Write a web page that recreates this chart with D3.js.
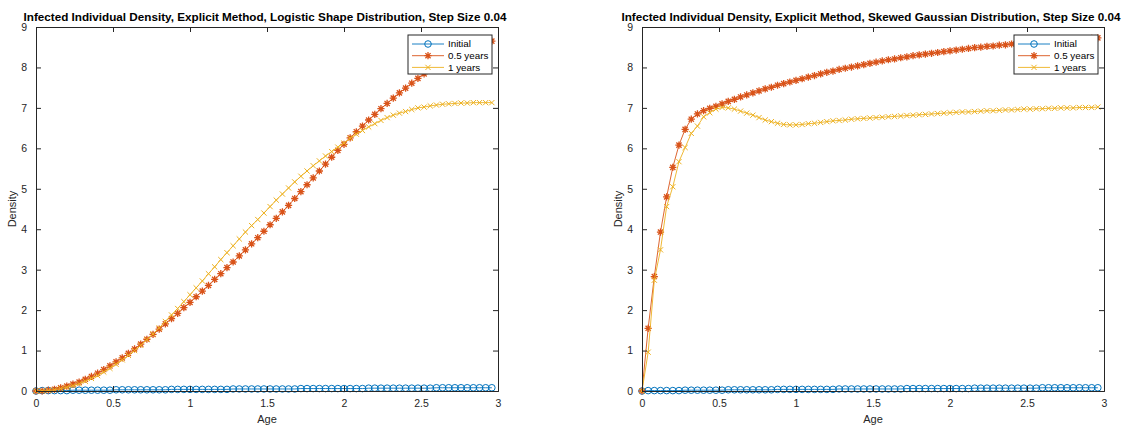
<!DOCTYPE html>
<html>
<head>
<meta charset="utf-8">
<script src="https://cdn.jsdelivr.net/npm/d3@7"></script>
<style>
  body { margin: 0; background: #fff; }
  svg { display: block; font-family: "Liberation Sans", Arial, sans-serif; }
</style>
</head>
<body>
<div id="chart"></div>
<script>
// ages, step size 0.04
const ages = [0.00,0.04,0.08,0.12,0.16,0.20,0.24,0.28,0.32,0.36,
  0.40,0.44,0.48,0.52,0.56,0.60,0.64,0.68,0.72,0.76,
  0.80,0.84,0.88,0.92,0.96,1.00,1.04,1.08,1.12,1.16,
  1.20,1.24,1.28,1.32,1.36,1.40,1.44,1.48,1.52,1.56,
  1.60,1.64,1.68,1.72,1.76,1.80,1.84,1.88,1.92,1.96,
  2.00,2.04,2.08,2.12,2.16,2.20,2.24,2.28,2.32,2.36,
  2.40,2.44,2.48,2.52,2.56,2.60,2.64,2.68,2.72,2.76,
  2.80,2.84,2.88,2.92,2.96];

const seriesNames = ['Initial', '0.5 years', '1 years'];
const xTicks = [0, 0.5, 1, 1.5, 2, 2.5, 3];
const yTicks = [0, 1, 2, 3, 4, 5, 6, 7, 8, 9];

// logistic shape distribution
const logisticInitial = [0.00,0.01,0.01,0.01,0.01,0.01,0.02,0.02,0.02,0.02,
  0.02,0.02,0.02,0.03,0.03,0.03,0.03,0.03,0.03,0.03,
  0.03,0.03,0.04,0.04,0.04,0.04,0.04,0.04,0.04,0.04,
  0.04,0.04,0.05,0.05,0.05,0.05,0.05,0.05,0.05,0.05,
  0.05,0.05,0.05,0.06,0.06,0.06,0.06,0.06,0.06,0.06,
  0.06,0.06,0.06,0.06,0.07,0.07,0.07,0.07,0.07,0.07,
  0.07,0.07,0.07,0.07,0.07,0.08,0.08,0.08,0.08,0.08,
  0.08,0.08,0.08,0.08,0.08];
const logisticHalf = [0.00,0.00,0.02,0.04,0.08,0.12,0.17,0.22,0.29,0.36,
  0.44,0.53,0.62,0.72,0.82,0.93,1.04,1.16,1.28,1.40,
  1.53,1.66,1.79,1.92,2.06,2.19,2.33,2.47,2.61,2.76,
  2.90,3.05,3.19,3.34,3.49,3.64,3.79,3.95,4.11,4.27,
  4.43,4.59,4.76,4.93,5.10,5.27,5.44,5.61,5.78,5.95,
  6.10,6.26,6.41,6.55,6.70,6.84,6.98,7.11,7.24,7.37,
  7.49,7.61,7.73,7.84,7.95,8.05,8.14,8.23,8.31,8.38,
  8.45,8.51,8.56,8.61,8.65];
const logisticOne = [0.00,0.00,0.01,0.03,0.06,0.09,0.13,0.18,0.24,0.31,
  0.38,0.47,0.56,0.66,0.77,0.88,1.00,1.13,1.27,1.41,
  1.56,1.72,1.88,2.04,2.21,2.38,2.55,2.72,2.90,3.07,
  3.25,3.42,3.59,3.76,3.93,4.09,4.24,4.40,4.56,4.72,
  4.87,5.02,5.17,5.31,5.44,5.57,5.69,5.81,5.92,6.03,
  6.13,6.25,6.35,6.44,6.53,6.61,6.69,6.76,6.82,6.87,
  6.91,6.96,7.00,7.02,7.05,7.07,7.09,7.10,7.11,7.12,
  7.12,7.13,7.13,7.13,7.13];

// skewed gaussian distribution
const skewedInitial = [0.00,0.01,0.01,0.01,0.01,0.01,0.01,0.02,0.02,0.02,
  0.02,0.02,0.02,0.02,0.03,0.03,0.03,0.03,0.03,0.03,
  0.03,0.03,0.04,0.04,0.04,0.04,0.04,0.04,0.04,0.04,
  0.04,0.04,0.05,0.05,0.05,0.05,0.05,0.05,0.05,0.05,
  0.05,0.05,0.05,0.06,0.06,0.06,0.06,0.06,0.06,0.06,
  0.06,0.06,0.06,0.06,0.07,0.07,0.07,0.07,0.07,0.07,
  0.07,0.07,0.07,0.07,0.07,0.08,0.08,0.08,0.08,0.08,
  0.08,0.08,0.08,0.08,0.08];
const skewedHalf = [0.00,1.55,2.83,3.93,4.80,5.53,6.08,6.47,6.72,6.85,
  6.93,6.99,7.04,7.10,7.16,7.21,7.27,7.32,7.37,7.42,
  7.47,7.51,7.56,7.60,7.64,7.68,7.72,7.76,7.80,7.84,
  7.88,7.91,7.95,7.98,8.01,8.04,8.07,8.10,8.13,8.16,
  8.19,8.21,8.24,8.26,8.29,8.31,8.33,8.35,8.37,8.39,
  8.41,8.43,8.45,8.47,8.49,8.50,8.52,8.53,8.55,8.56,
  8.58,8.59,8.60,8.62,8.63,8.64,8.65,8.66,8.67,8.68,
  8.69,8.70,8.71,8.72,8.73];
const skewedOne = [0.00,0.96,2.74,3.49,4.56,5.05,5.67,6.02,6.37,6.55,
  6.78,6.88,6.97,7.01,7.00,6.97,6.92,6.87,6.82,6.76,
  6.70,6.66,6.62,6.59,6.58,6.58,6.59,6.61,6.62,6.64,
  6.66,6.68,6.69,6.70,6.72,6.73,6.74,6.75,6.76,6.77,
  6.78,6.79,6.80,6.81,6.82,6.83,6.84,6.85,6.86,6.87,
  6.88,6.89,6.90,6.90,6.91,6.92,6.93,6.93,6.94,6.95,
  6.95,6.96,6.97,6.97,6.98,6.98,6.99,6.99,7.00,7.00,
  7.00,7.01,7.01,7.01,7.02];

const colors = ['#0072BD', '#D95319', '#EDB120'];
const markers = ['circle', 'star', 'cross'];
const axisColor = '#262626';

const W = 1126, H = 425;
const svg = d3.select('#chart').append('svg')
    .attr('width', W)
    .attr('height', H);

const markerPath = (type) => {
    if (type === 'star') {
        const s = 3.6, d = 2.6;
        return `M${-s},0L${s},0M0,${-s}L0,${s}M${-d},${-d}L${d},${d}M${-d},${d}L${d},${-d}`;
    }
    const d = 2.6;
    return `M${-d},${-d}L${d},${d}M${-d},${d}L${d},${-d}`;
}

const drawMarker = (g, type, color) => {
    if (type === 'circle') {
        g.append('circle').attr('r', 3.3)
            .attr('fill', 'none').attr('stroke', color).attr('stroke-width', 1);
    } else {
        g.append('path').attr('d', markerPath(type))
            .attr('fill', 'none').attr('stroke', color)
            .attr('stroke-width', type === 'star' ? 1.3 : 1);
    }
}

const drawPanel = (x0, x1, title, series) => {
    const top = 27, bottom = 391;
    const xScale = d3.scaleLinear().domain([0, 3]).range([x0, x1]);
    const yScale = d3.scaleLinear().domain([0, 9]).range([bottom, top]);

    const g = svg.append('g');

    // series
    series.forEach((vals, k) => {
        const line = d3.line()
            .x((d, i) => xScale(ages[i]))
            .y(d => yScale(d));
        g.append('path')
            .datum(vals)
            .attr('d', line)
            .attr('fill', 'none')
            .attr('stroke', colors[k])
            .attr('stroke-width', 0.9);
        const pts = g.append('g').selectAll('g')
            .data(vals)
            .enter()
            .append('g')
            .attr('transform', (d, i) => `translate(${xScale(ages[i])},${yScale(d)})`);
        pts.each(function () { drawMarker(d3.select(this), markers[k], colors[k]); });
    })

    // axes (box with inward ticks)
    const xAxis = d3.axisBottom(xScale).tickValues(xTicks).tickSize(-5).tickPadding(9)
        .tickFormat(d3.format('~g'));
    const yAxis = d3.axisLeft(yScale).tickValues(yTicks).tickSize(-5).tickPadding(9);
    const xTop = d3.axisTop(xScale).tickValues(xTicks).tickSize(-5).tickFormat('');
    const yRight = d3.axisRight(yScale).tickValues(yTicks).tickSize(-5).tickFormat('');

    const styleAxis = (a) => {
        a.selectAll('path').attr('stroke', axisColor).attr('stroke-width', 1);
        a.selectAll('line').attr('stroke', axisColor).attr('stroke-width', 1);
        a.selectAll('text').attr('fill', axisColor).style('font-size', '10.5px')
            .style('font-family', '"Liberation Sans", Arial, sans-serif');
    }
    styleAxis(svg.append('g').attr('transform', `translate(0,${bottom})`).call(xAxis));
    styleAxis(svg.append('g').attr('transform', `translate(${x0},0)`).call(yAxis));
    styleAxis(svg.append('g').attr('transform', `translate(0,${top})`).call(xTop));
    styleAxis(svg.append('g').attr('transform', `translate(${x1},0)`).call(yRight));

    // title and axis labels
    svg.append('text')
        .attr('x', (x0 + x1) / 2 - 2).attr('y', 21)
        .attr('text-anchor', 'middle')
        .style('font-size', '11.7px').style('font-weight', 'bold')
        .text(title);
    svg.append('text')
        .attr('x', (x0 + x1) / 2).attr('y', 423)
        .attr('text-anchor', 'middle').attr('fill', axisColor)
        .style('font-size', '11px')
        .text('Age');
    svg.append('text')
        .attr('transform', `translate(${x0 - 20},209) rotate(-90)`)
        .attr('text-anchor', 'middle').attr('fill', axisColor)
        .style('font-size', '11px')
        .text('Density');

    // legend
    const lx = x1 - 90, ly = 35;
    const leg = svg.append('g').attr('transform', `translate(${lx},${ly})`);
    leg.append('rect').attr('width', 84).attr('height', 39)
        .attr('fill', '#fff').attr('stroke', axisColor).attr('stroke-width', 1);
    seriesNames.forEach((name, k) => {
        const yy = 9 + k * 11.7;
        leg.append('line').attr('x1', 4).attr('x2', 36).attr('y1', yy).attr('y2', yy)
            .attr('stroke', colors[k]).attr('stroke-width', 0.9);
        drawMarker(leg.append('g').attr('transform', `translate(20,${yy})`), markers[k], colors[k]);
        leg.append('text').attr('x', 40).attr('y', yy).attr('dy', '0.35em')
            .style('font-size', '9.8px').text(name);
    })
}

drawPanel(36, 498, 'Infected Individual Density, Explicit Method, Logistic Shape Distribution, Step Size 0.04',
    [logisticInitial, logisticHalf, logisticOne]);
drawPanel(642, 1104, 'Infected Individual Density, Explicit Method, Skewed Gaussian Distribution, Step Size 0.04',
    [skewedInitial, skewedHalf, skewedOne]);
</script>
</body>
</html>
